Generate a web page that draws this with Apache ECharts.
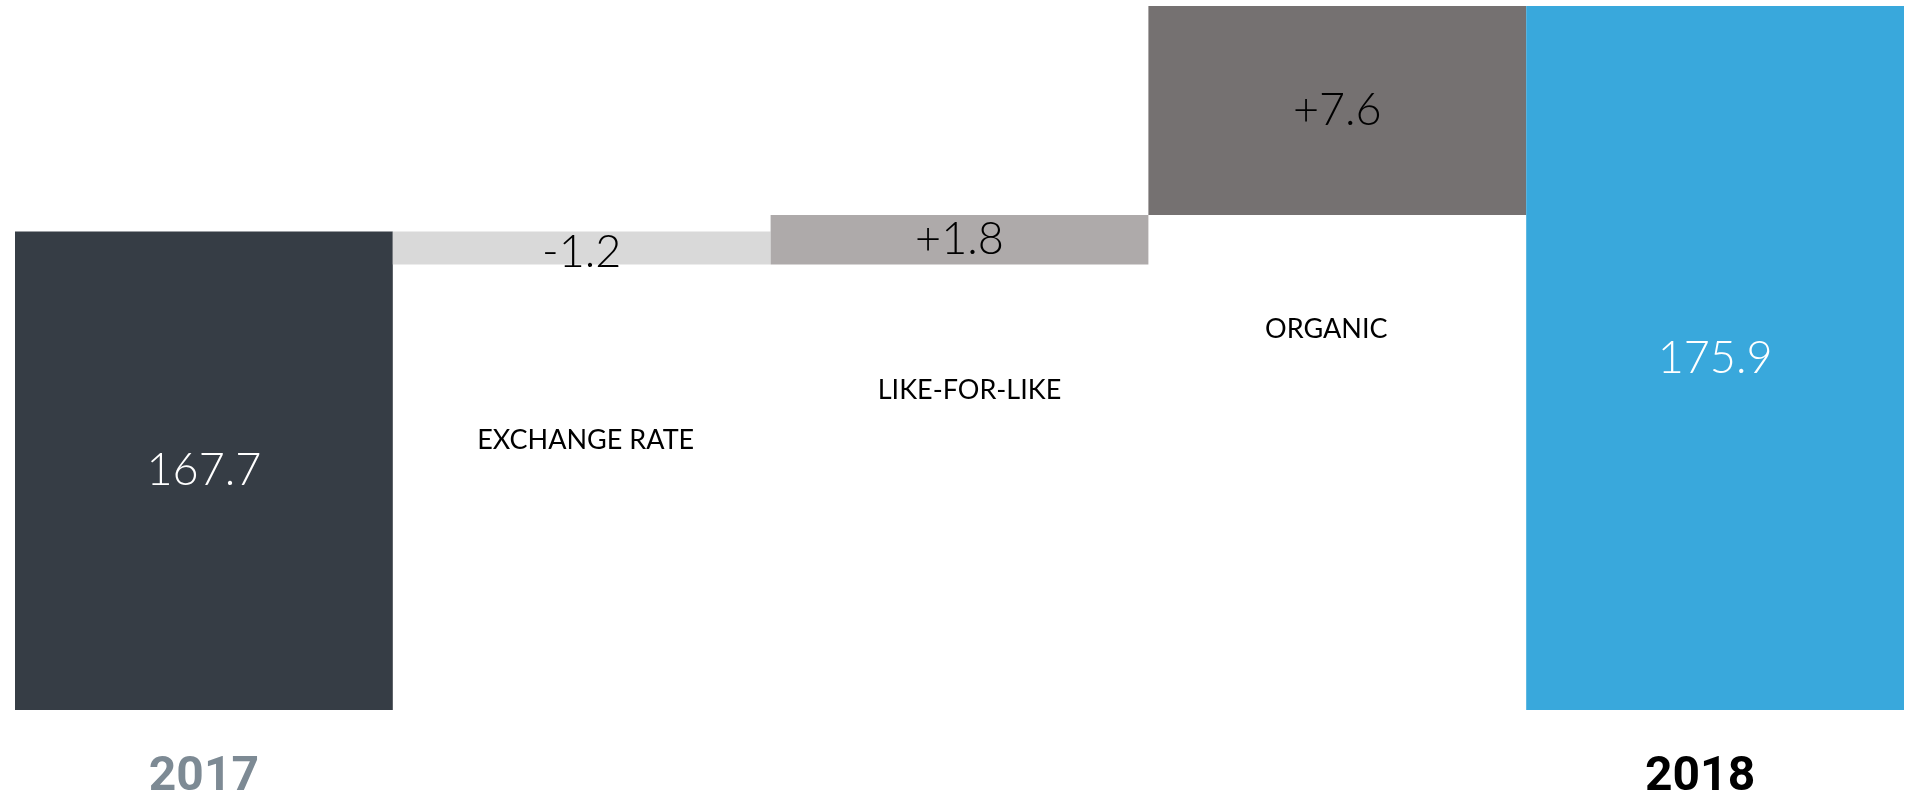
<!DOCTYPE html>
<html>
<head>
<meta charset="utf-8">
<script src="https://cdn.jsdelivr.net/npm/echarts@6/dist/echarts.min.js"></script>
<style>
html,body{margin:0;padding:0;background:#fff;}
#chart{width:1908px;height:802px;}
</style>
</head>
<body>
<div id="chart"></div>
<script>
// ---- data ----
const categories = ['2017', 'EXCHANGE RATE', 'LIKE-FOR-LIKE', 'ORGANIC', '2018'];
const startTotal = 167.7;
const deltas = [-1.2, 1.8, 7.6];
const endTotal = 175.9;
const barColors = ['#363d45', '#d9d9d9', '#aeaaaa', '#757171', '#39a8dc'];

// ---- build waterfall ----
const baseData = [];
const visData = [];
baseData.push(0);
visData.push(startTotal);
let run = startTotal;
// style config: where each floating bar's category name sits (px offsets)
const nameDrop = [162, 112, 101];
const nameShift = [4, 10, -11];
deltas.forEach((d, i) => {
  const next = +(run + d).toFixed(1);
  const lo = Math.min(run, next);
  baseData.push({
    value: lo,
    label: { show: true, distance: nameDrop[i], offset: [nameShift[i], 0] }
  });
  visData.push(Math.abs(d));
  run = next;
});
baseData.push(0);
visData.push(endTotal);

const labelText = (i) => {
  if (i === 0) return startTotal.toFixed(1);
  if (i === categories.length - 1) return endTotal.toFixed(1);
  const d = deltas[i - 1];
  return (d > 0 ? '+' : '') + d.toFixed(1);
};

const chart = echarts.init(document.getElementById('chart'));
chart.setOption({
  animation: false,
  grid: { left: 15, right: 4, top: 6, bottom: 89 },
  xAxis: {
    type: 'category',
    data: categories,
    axisLine: { show: false },
    axisTick: { show: false },
    axisLabel: {
      interval: 0,
      margin: 44,
      formatter: (v, i) => i === 0 ? '{a|' + v + '}' : (i === categories.length - 1 ? '{b|' + v + '}' : ''),
      rich: {
        a: { fontFamily: 'Roboto', fontWeight: 'bold', fontSize: 48, color: '#7d8a94' },
        b: { fontFamily: 'Roboto', fontWeight: 'bold', fontSize: 48, color: '#000000', padding: [0, 30, 0, 0] }
      }
    }
  },
  yAxis: {
    type: 'value',
    min: 150.3,
    max: 175.9,
    show: false,
    splitLine: { show: false }
  },
  series: [
    {
      type: 'bar',
      stack: 'w',
      barCategoryGap: '0%',
      itemStyle: { color: 'transparent' },
      label: {
        show: false,
        position: 'insideTop',
        formatter: (p) => categories[p.dataIndex],
        fontFamily: 'Lato',
        fontSize: 27,
        color: '#000'
      },
      emphasis: { disabled: true },
      data: baseData
    },
    {
      type: 'bar',
      stack: 'w',
      barCategoryGap: '0%',
      itemStyle: { color: (p) => barColors[p.dataIndex] },
      label: {
        show: true,
        position: 'inside',
        formatter: (p) => labelText(p.dataIndex),
        fontFamily: 'Lato',
        fontWeight: 300,
        fontSize: 45,
        color: '#000'
      },
      emphasis: { disabled: true },
      data: visData.map((v, i) => ({
        value: v,
        label: { color: (i === 0 || i === categories.length - 1) ? '#ffffff' : '#000000',
                 offset: i === 1 ? [0, 4] : [0, 0] }
      }))
    }
  ]
});
</script>
</body>
</html>
